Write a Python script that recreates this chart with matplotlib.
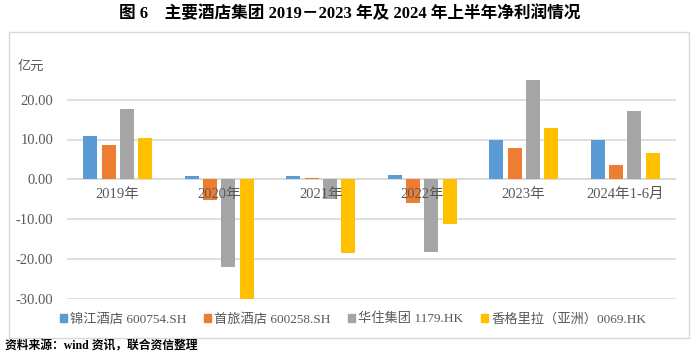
import matplotlib.pyplot as plt
import matplotlib.patches as mpatches
import numpy as np

plt.rcParams['font.family'] = ['Liberation Serif', 'Noto Sans CJK SC']

categories = ["2019年", "2020年", "2021年", "2022年", "2023年", "2024年1-6月"]
series_names = ["锦江酒店 600754.SH", "首旅酒店 600258.SH", "华住集团 1179.HK", "香格里拉（亚洲）0069.HK"]
jinjiang = [10.8, 0.9, 0.9, 1.0, 9.9, 9.8]
shoulv = [8.7, -5.3, 0.4, -6.0, 7.8, 3.5]
huazhu = [17.6, -22.0, -5.0, -18.3, 25.0, 17.1]
shangrila = [10.5, -30.0, -18.6, -11.2, 13.0, 6.6]
colors = ["#5B9BD5", "#ED7D31", "#A5A5A5", "#FFC000"]
yticks = [-30, -20, -10, 0, 10, 20]

fig = plt.figure(figsize=(7, 3.57), dpi=100)

# outer frame
fig.patches.append(mpatches.Rectangle((9 / 700, 1 - 338 / 357), 680 / 700, 306 / 357,
                                      transform=fig.transFigure, fill=False,
                                      edgecolor="#D9D9D9", linewidth=1))

ax = fig.add_axes([67 / 700, 1 - 298.5 / 357, 609 / 700, 238.5 / 357])

x = np.arange(len(categories))
width = 0.138
step = 0.182
all_series = [jinjiang, shoulv, huazhu, shangrila]
for i, (vals, name, c) in enumerate(zip(all_series, series_names, colors)):
    ax.bar(x + (i - 1.5) * step, vals, width, color=c, label=name, zorder=3)

ax.set_xlim(-0.5, 5.5)
ax.set_ylim(-30, 30)
ax.set_yticks(yticks)
ax.set_yticklabels([f"{v:.2f}" for v in yticks], fontsize=10.5, color="#595959")
ax.yaxis.grid(True, color="#D9D9D9", linewidth=1.2, zorder=0)
ax.set_xticks([])
ax.tick_params(axis="y", length=0, pad=10)
for s in ax.spines.values():
    s.set_visible(False)
ax.axhline(0, color="#D9D9D9", linewidth=1.2, zorder=2)

for xi, lab in zip(x, categories):
    ax.text(xi, -2.2, lab, ha="center", va="top", fontsize=10.5, color="#595959", zorder=4)

fig.text(18 / 700, 1 - 67 / 357, "亿元", fontsize=9.5, color="#595959", va="center")

fig.text(0.5, 1 - 14 / 357, "图 6    主要酒店集团 2019－2023 年及 2024 年上半年净利润情况",
         ha="center", va="center", fontsize=12, fontweight="bold")

handles = [mpatches.Patch(color=c) for c in colors]
fig.legend(handles, series_names, loc="center", bbox_to_anchor=(353 / 700, 1 - 319 / 357),
           ncol=4, frameon=False, fontsize=9.5, handlelength=0.55, handleheight=0.55,
           handletextpad=0.25, columnspacing=1.3, labelcolor="#595959")

fig.text(5 / 700, 1 - 347 / 357, "资料来源：wind 资讯，联合资信整理", fontsize=8.5,
         fontweight="bold", va="center")

fig.savefig("out.png", dpi=100)
